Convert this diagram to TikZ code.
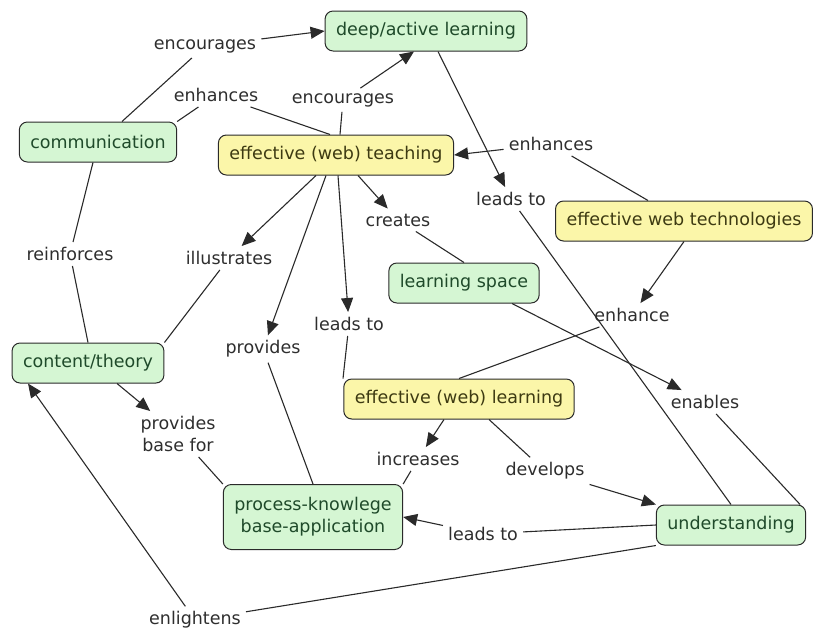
\documentclass[tikz,border=0pt]{standalone}
\usepackage{fontspec}
\setmainfont{DejaVu Sans}
\usepackage{xcolor}
\usetikzlibrary{arrows.meta,positioning}

\definecolor{mapgreen}{HTML}{D5F6D3}
\definecolor{mapyellow}{HTML}{FBF6A9}
\definecolor{greentext}{HTML}{1F4A2A}
\definecolor{yellowtext}{HTML}{3D3A12}
\definecolor{mapline}{HTML}{2A2A2A}

\begin{document}
\begin{tikzpicture}[
    x=1pt, y=-1pt,
    concept/.style={rectangle, rounded corners=8pt, draw=mapline, line width=1pt,
        minimum height=40pt, inner xsep=11pt, align=center, font=\fontsize{17.5}{22}\selectfont},
    green/.style={concept, fill=mapgreen, text=greentext},
    yellow/.style={concept, fill=mapyellow, text=yellowtext},
    link/.style={inner sep=5pt, align=center, text=black!82, font=\fontsize{17.5}{22}\selectfont},
    line/.style={draw=mapline, line width=1.1pt},
    arrow/.style={line, -{Triangle[length=14pt, width=12pt]}}
]
\useasboundingbox (0,0) rectangle (813,632);

% concepts
\node[green] (deep) at (426,31) {deep/active learning};
\node[green] (comm) at (98,142) {communication};
\node[yellow] (teach) at (336,155) {effective (web) teaching};
\node[yellow] (tech) at (684,221) {effective web technologies};
\node[green] (space) at (464,283) {learning space};
\node[green] (theory) at (88,363) {content/theory};
\node[yellow] (learn) at (459,399) {effective (web) learning};
\node[green, minimum height=65pt] (process) at (313,517) {process-knowlege\\base-application};
\node[green] (underst) at (731,525) {understanding};

% linking phrases
\node[link] (encA) at (205,46) {encourages};
\node[link] (enhA) at (216,95) {enhances};
\node[link] (encB) at (343,100) {encourages};
\node[link] (enhB) at (551,144) {enhances};
\node[link] (leadsA) at (511,199) {leads to};
\node[link] (creates) at (398,220) {creates};
\node[link] (reinf) at (70,254) {reinforces};
\node[link] (illus) at (229,258) {illustrates};
\node[link] (enhC) at (632,315) {enhance};
\node[link] (leadsB) at (349,324) {leads to};
\node[link] (provA) at (263,349) {provides};
\node[link] (provB) at (178,434) {provides\\base for};
\node[link] (enables) at (705,402) {enables};
\node[link] (incr) at (418,459) {increases};
\node[link] (devel) at (545,471) {develops};
\node[link] (leadsC) at (483,534) {leads to};
\node[link] (enlight) at (195,620) {enlightens};

% connections
\draw[line] ([xshift=24pt]comm.north) -- (encA);
\draw[arrow] (encA) -- (deep.west);
\draw[line] (comm.north east) -- (enhA);
\draw[line] (enhA) -- ([xshift=-6pt]teach.north);
\draw[line] ([xshift=4pt]teach.north) -- (encB);
\draw[arrow] (encB) -- ([xshift=-12pt]deep.south);
\draw[line] ([xshift=-36pt]tech.north) -- (enhB);
\draw[arrow] (enhB) -- (teach.east);
\draw[arrow] ([xshift=12pt]deep.south) -- (leadsA);
\draw[line] (leadsA) -- (underst.north);
\draw[arrow] ([xshift=22pt]teach.south) -- (creates);
\draw[line] (creates) -- (space.north);
\draw[arrow] ([xshift=-20pt]teach.south) -- (illus);
\draw[line] (illus) -- (theory.north east);
\draw[arrow] ([xshift=-10pt]teach.south) -- (provA);
\draw[line] (provA) -- (process.north);
\draw[arrow] ([xshift=2pt]teach.south) -- (leadsB);
\draw[line] (leadsB) -- ([xshift=-116pt]learn.north);
\draw[line] ([xshift=-5pt]comm.south) -- (reinf);
\draw[line] (reinf) -- (theory.north);
\draw[arrow] (tech.south) -- (enhC);
\draw[line] (enhC) -- (learn.north);
\draw[arrow] ([xshift=48pt]space.south) -- (enables);
\draw[line] (enables) -- ([xshift=-6pt]underst.north east);
\draw[arrow] ([xshift=-15pt]learn.south) -- (incr);
\draw[line] (incr) -- (process.north east);
\draw[line] ([xshift=30pt]learn.south) -- (devel);
\draw[arrow] (devel) -- (underst.north west);
\draw[line] (underst.west) -- (leadsC);
\draw[arrow] (leadsC) -- (process.east);
\draw[line] (underst.south west) -- (enlight);
\draw[arrow] (enlight) -- ([xshift=-60pt]theory.south);
\draw[arrow] ([xshift=29pt]theory.south) -- (provB);
\draw[line] (provB) -- (process.north west);
\end{tikzpicture}
\end{document}
